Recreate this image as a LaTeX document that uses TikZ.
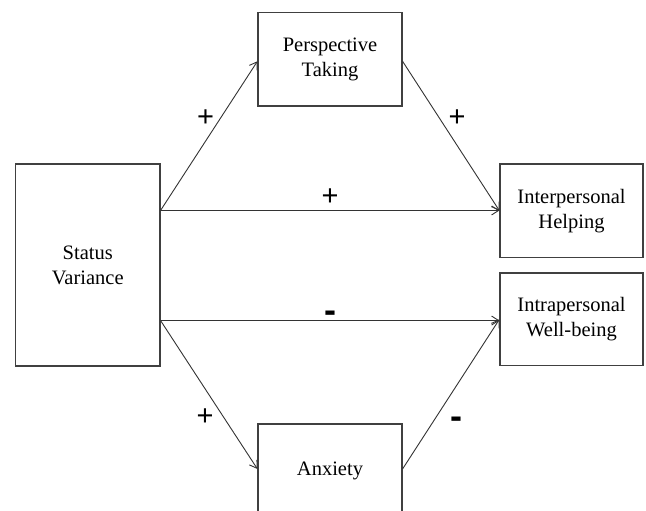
\documentclass[tikz,border=0pt]{standalone}
\usepackage{fontspec}
\setmainfont{Liberation Serif}
\newfontfamily\signfont{Liberation Sans}
\usetikzlibrary{arrows.meta}
\begin{document}
\begin{tikzpicture}[x=1pt,y=-1pt,
  box/.style={draw=black!75, line width=1.1pt, rectangle, inner sep=0pt, align=center,
    font=\fontsize{20.5}{25}\selectfont},
  conn/.style={draw=black!80, line width=0.9pt, -{Straight Barb[length=7pt,width=9pt,line width=0.9pt]}},
  sign/.style={inner sep=0pt, font=\signfont\fontsize{29}{29}\selectfont},
  minus/.style={inner sep=0pt, font=\signfont\bfseries\fontsize{36}{36}\selectfont}]
\useasboundingbox (0,0) rectangle (646,511);
\node[box, minimum width=144.5pt, minimum height=202pt] (SV) at (87.75,265) {Status\\Variance};
\node[box, minimum width=144pt, minimum height=93.5pt] (PT) at (330,59.25) {Perspective\\Taking};
\node[box, minimum width=143pt, minimum height=93.5pt] (IH) at (571.5,210.75) {Interpersonal\\Helping};
\node[box, minimum width=143pt, minimum height=92.5pt] (IW) at (571.5,319.25) {Intrapersonal\\Well-being};
\node[box, minimum width=144pt, minimum height=93pt] (AX) at (330,470.5) {Anxiety};
\coordinate (svtop) at ([yshift=-47pt]SV.north east);
\coordinate (svbot) at ([yshift=46pt]SV.south east);
\coordinate (ptin) at ([yshift=-2pt]PT.west);
\coordinate (ptout) at ([yshift=-2pt]PT.east);
\coordinate (axin) at ([yshift=1.5pt]AX.west);
\coordinate (axout) at ([yshift=1.5pt]AX.east);
\draw[conn] (svtop) -- (ptin);
\draw[conn] (ptout) -- (IH.west);
\draw[conn] (svtop) -- (svtop -| IH.west);
\draw[conn] (svbot) -- (svbot -| IW.west);
\draw[conn] (svbot) -- (axin);
\draw[conn] (axout) -- (IW.west);
\node[sign] (s1) at (205.5,118) {+};
\node[sign] (s2) at (457,118) {+};
\node[sign] (s3) at (330,197) {+};
\node[minus] (s4) at (330,317) {-};
\node[sign] (s5) at (205,417) {+};
\node[minus] (s6) at (456,423) {-};
\end{tikzpicture}
\end{document}
